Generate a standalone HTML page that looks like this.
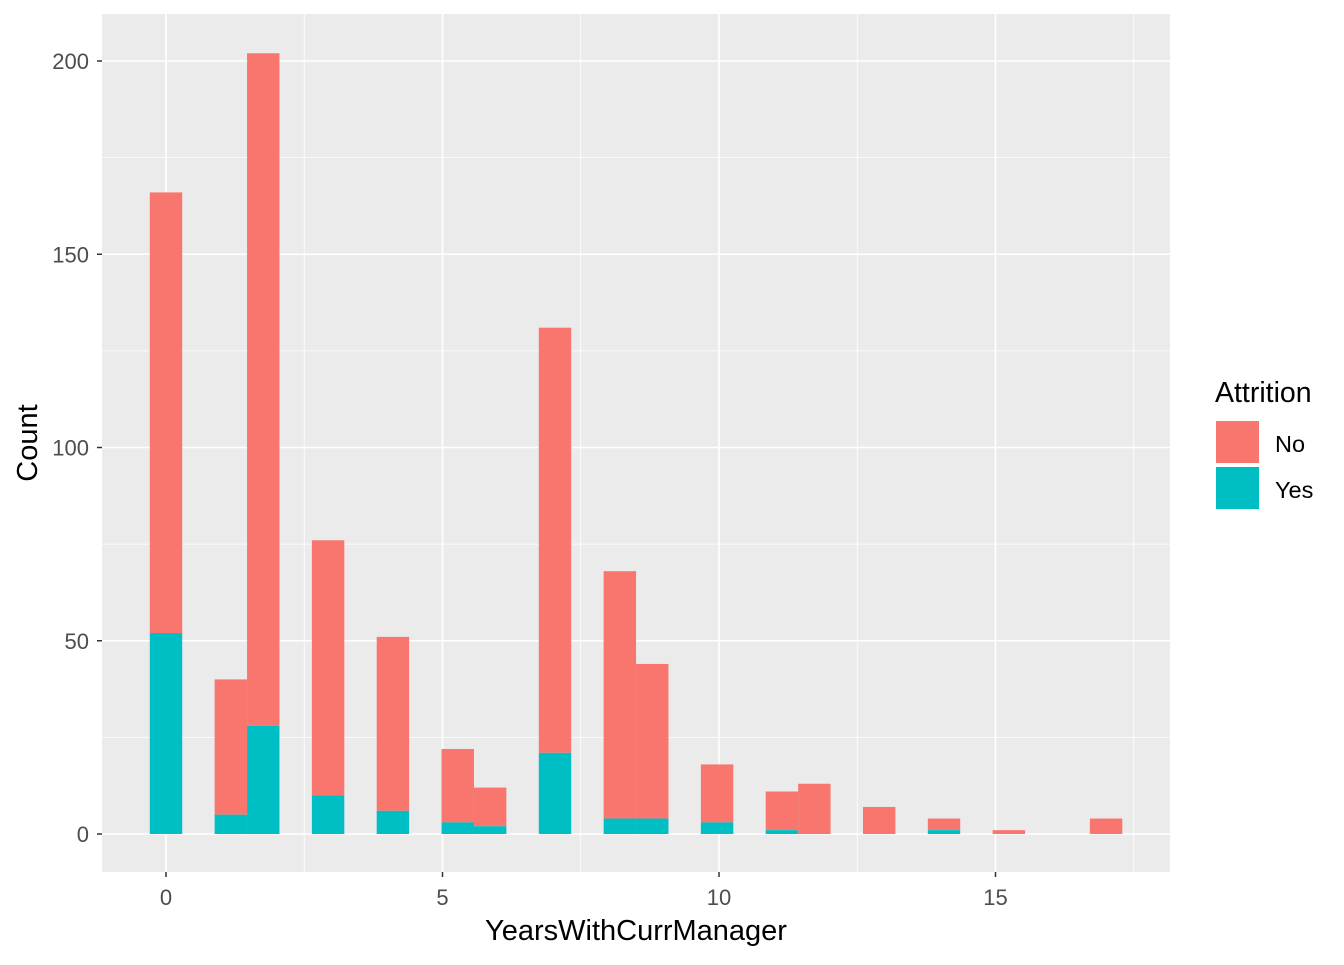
<!DOCTYPE html>
<html><head><meta charset="utf-8"><style>
body{margin:0;background:#fff;font-family:"Liberation Sans",sans-serif}
</style></head><body>
<svg id="chart" width="1344" height="960" xmlns="http://www.w3.org/2000/svg"></svg>
<script>
const binCenters=[0,1.1724,1.7586,2.931,4.1034,5.2759,5.8621,7.0345,8.2069,8.7931,9.9655,11.1379,11.7241,12.8966,14.069,15.2414,17];
const noCounts=[114,35,174,66,45,19,10,110,64,40,15,10,13,7,3,1,4];
const yesCounts=[52,5,28,10,6,3,2,21,4,4,3,1,0,0,1,0,0];
const xTicks=[0,5,10,15];
const yTicks=[0,50,100,150,200];
const binWidth=0.5862;
const NS="http://www.w3.org/2000/svg";
const svg=document.getElementById('chart');
const P={l:102,r:1170,t:14,b:872};
const X=v=>166+v*55.3;
const Y=v=>834-v*3.865;
function el(t,a,txt){const e=document.createElementNS(NS,t);for(const k in a)e.setAttribute(k,a[k]);if(txt!==undefined)e.textContent=txt;svg.appendChild(e);return e;}
let e=el('rect',{x:P.l,y:P.t,width:P.r-P.l,height:P.b-P.t,fill:'#EBEBEB'});

[2.5,7.5,12.5,17.5].forEach(v=>{const g=el('line',{x1:X(v),x2:X(v),y1:P.t,y2:P.b,stroke:'#fff','stroke-width':0.8});});
[25,75,125,175].forEach(v=>{const g=el('line',{x1:P.l,x2:P.r,y1:Y(v),y2:Y(v),stroke:'#fff','stroke-width':0.8});});
xTicks.forEach(v=>{const g=el('line',{x1:X(v),x2:X(v),y1:P.t,y2:P.b,stroke:'#fff','stroke-width':1.6});
const t=el('text',{x:X(v),y:905,'text-anchor':'middle','font-size':22,fill:'#4D4D4D'},v);
el('line',{x1:X(v),x2:X(v),y1:P.b,y2:P.b+5,stroke:'#333','stroke-width':1.5});});
yTicks.forEach(v=>{const g=el('line',{x1:P.l,x2:P.r,y1:Y(v),y2:Y(v),stroke:'#fff','stroke-width':1.6});
const t=el('text',{x:89,y:Y(v)+8,'text-anchor':'end','font-size':22,fill:'#4D4D4D'},v);
el('line',{x1:P.l-5,x2:P.l,y1:Y(v),y2:Y(v),stroke:'#333','stroke-width':1.5});});
binCenters.forEach((c,i)=>{
 const x0=X(c-binWidth/2),w=X(c+binWidth/2)-x0;
 const y=yesCounts[i],n=noCounts[i];
 if(n>0){const r=el('rect',{x:x0,y:Y(y+n),width:w,height:Y(y)-Y(y+n),fill:'#F8766D'});}
 if(y>0){const r=el('rect',{x:x0,y:Y(y),width:w,height:Y(0)-Y(y),fill:'#00BFC4'});}
});
e=el('text',{x:636,y:940,'text-anchor':'middle','font-size':29,fill:'#000'},'YearsWithCurrManager');
e=el('text',{x:37,y:443,'text-anchor':'middle','font-size':29,fill:'#000',transform:'rotate(-90 37 443)'},'Count');
e=el('text',{x:1215,y:402,'font-size':28.5,fill:'#000'},'Attrition');
e=el('rect',{x:1216,y:421,width:43,height:42,fill:'#F8766D'});
e=el('rect',{x:1216,y:467,width:43,height:42,fill:'#00BFC4'});
e=el('text',{x:1275,y:452,'font-size':23.5,fill:'#000'},'No');
e=el('text',{x:1275,y:498,'font-size':23.5,fill:'#000'},'Yes');
</script>
</body></html>
